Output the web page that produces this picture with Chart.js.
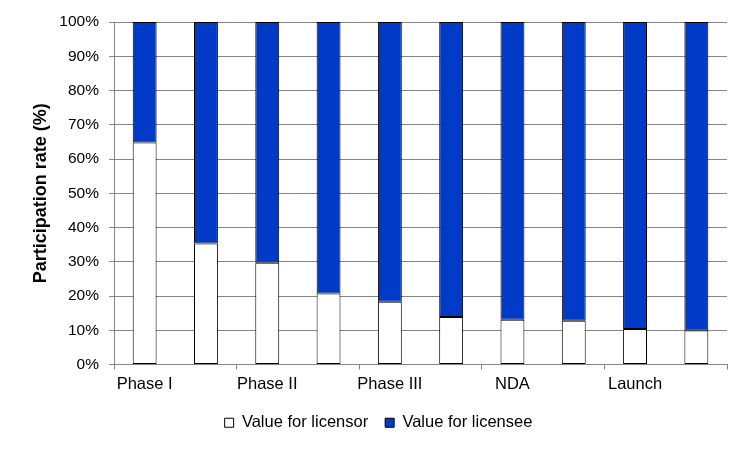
<!DOCTYPE html>
<html>
<head>
<meta charset="utf-8">
<script src="https://cdn.jsdelivr.net/npm/chart.js@4/dist/chart.umd.min.js"></script>
<style>
    html, body { margin: 0; padding: 0; background: #ffffff; }
    #wrap { width: 750px; height: 449px; }
</style>
</head>
<body>
<div id="wrap"><canvas id="m_chart_participation"></canvas></div>
<script>
var stageLabels = ['Phase I', '', 'Phase II', '', 'Phase III', '', 'NDA', '', 'Launch', ''];
var licensorValues = [64.8, 35.3, 29.7, 20.7, 18.3, 13.9, 13.1, 12.8, 10.4, 9.9];
var licenseeValues = [35.2, 64.7, 70.3, 79.3, 81.7, 86.1, 86.9, 87.2, 89.6, 90.1];
var yTickValues = [0, 10, 20, 30, 40, 50, 60, 70, 80, 90, 100];

var gridGray = '#868686';
var fontFamily = '"Liberation Sans", Arial, sans-serif';

var data = {
    labels: stageLabels,
    datasets: [{
        label: 'Value for licensor',
        data: licensorValues,
        backgroundColor: '#ffffff',
        borderColor: '#000000',
        borderWidth: 1,
        borderSkipped: false
    }, {
        label: 'Value for licensee',
        data: licenseeValues,
        backgroundColor: '#003ac6',
        borderColor: '#000000',
        borderWidth: 1,
        borderSkipped: false
    }]
};

new Chart(document.getElementById('m_chart_participation'), {
    type: 'bar',
    data: data,
    options: {
        responsive: true,
        maintainAspectRatio: false,
        animation: false,
        categoryPercentage: 1,
        barPercentage: 0.39,
        layout: {
            padding: { top: 22, right: 23, bottom: 8, left: 30 }
        },
        plugins: {
            tooltip: { enabled: false },
            legend: {
                position: 'bottom',
                labels: {
                    boxWidth: 9,
                    boxHeight: 9,
                    padding: 17,
                    color: '#000000',
                    font: { family: fontFamily, size: 16.5 }
                }
            }
        },
        scales: {
            x: {
                stacked: true,
                afterFit: function (scale) { scale.height = 33; },
                border: { color: gridGray, width: 1 },
                grid: {
                    offset: true,
                    drawOnChartArea: false,
                    tickLength: 5,
                    color: function (ctx) {
                        return (ctx.index === undefined || ctx.index % 2 === 0) ? gridGray : 'rgba(0,0,0,0)';
                    }
                },
                ticks: {
                    autoSkip: false,
                    maxRotation: 0,
                    padding: 5,
                    color: '#000000',
                    font: { family: fontFamily, size: 16.5 }
                }
            },
            y: {
                stacked: true,
                min: 0,
                max: 100,
                afterFit: function (scale) { scale.width = 84; },
                afterBuildTicks: function (scale) {
                    scale.ticks = yTickValues.map(function (v) { return { value: v }; });
                },
                border: { color: gridGray, width: 1 },
                grid: {
                    color: gridGray,
                    tickLength: 5
                },
                ticks: {
                    padding: 10,
                    color: '#000000',
                    font: { family: fontFamily, size: 15.5 },
                    callback: function (v) { return v + '%'; }
                },
                title: {
                    display: true,
                    text: 'Participation rate (%)',
                    color: '#000000',
                    padding: { top: 0, bottom: 0 },
                    font: { family: fontFamily, size: 18, weight: 'bold' }
                }
            }
        }
    }
});
</script>
</body>
</html>
